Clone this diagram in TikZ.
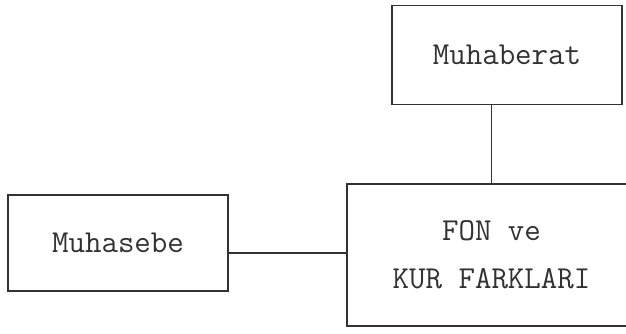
\documentclass[tikz,border=0pt]{standalone}
\usepackage{tikz}
\usetikzlibrary{calc}
\definecolor{inkgray}{RGB}{50,50,50}

\begin{document}
\begin{tikzpicture}[
    x=1pt, y=-1pt,
    every node/.style={font=\ttfamily\fontsize{32}{48}\selectfont, text=inkgray},
    unitbox/.style={
        draw=inkgray,
        line width=1.4pt,
        minimum width=#1,
        inner sep=0pt,
        align=center
    },
    link/.style={
        draw=inkgray,
        line width=1.3pt
    }
]
    \useasboundingbox (0,0) rectangle (626,333);

    % Units
    \node[unitbox=230pt, minimum height=99pt] (muhaberat) at (507,55) {Muhaberat};
    \node[unitbox=220pt, minimum height=96pt] (muhasebe) at (118,243) {Muhasebe};
    \node[unitbox=289pt, minimum height=142pt] (fon) at (491.5,255)
        {FON ve\\KUR FARKLARI};

    % Links
    \draw[link] (fon.north |- muhaberat.south) -- (fon.north);
    \draw[link] ([yshift=-10pt]muhasebe.east) -- ([yshift=-10pt]muhasebe.east -| fon.west);

\end{tikzpicture}
\end{document}
